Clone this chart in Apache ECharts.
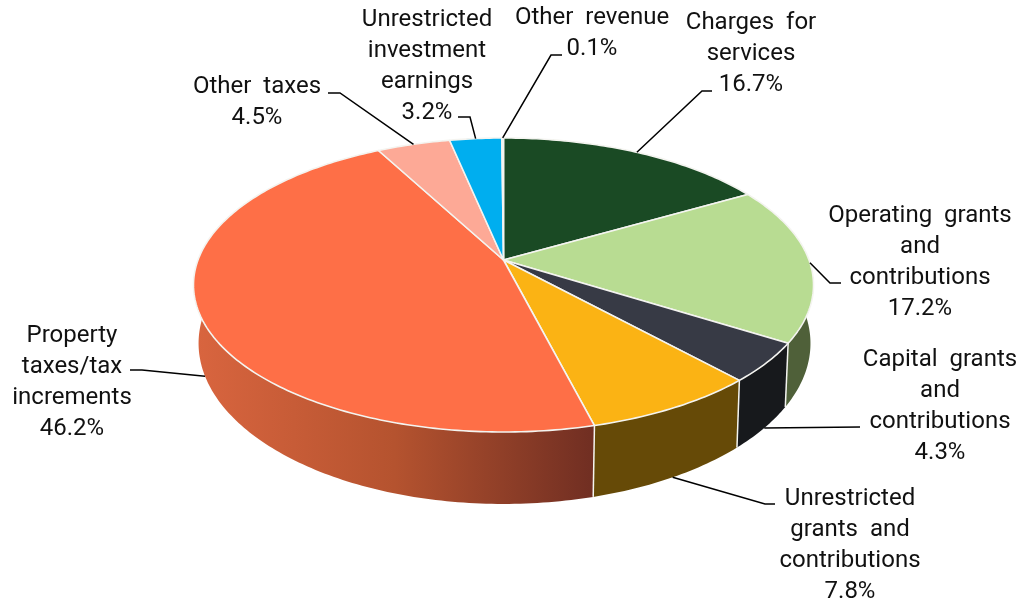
<!DOCTYPE html>
<html>
<head>
<meta charset="utf-8">
<style>html,body{margin:0;padding:0;background:#fff}#chart{width:1026px;height:605px}</style>
<script src="https://cdn.jsdelivr.net/npm/echarts@6/dist/echarts.min.js"></script>
</head>
<body>
<div id="chart"></div>
<script>
// Revenue shares, clockwise from twelve o'clock.
const categories = ['Charges  for\nservices', 'Operating  grants\nand\ncontributions', 'Capital  grants\nand\ncontributions',
  'Unrestricted\ngrants  and\ncontributions', 'Property\ntaxes/tax\nincrements', 'Other  taxes',
  'Unrestricted\ninvestment\nearnings', 'Other  revenue'];
const shares = [16.7, 17.2, 4.3, 7.8, 46.2, 4.5, 3.2, 0.1];

const topColors = ['#1a4a24', '#b8dc92', '#373a45', '#fbb314', '#fe6f47', '#fda996', '#00aeef', '#2a9fd8'];
const wallColors = ['#123318', '#4f6039', '#17191c', '#664a07',
  ['#d9653f', '#b5532f', '#702e22'], '#b07464', '#007aa7', '#1c6f97'];

// Label block centre, elbow points of the leader, and which rim the leader meets.
const labelLayout = [
  { x: 751, y: 54, elbow: [[702, 91], [712, 91]], rim: 'top' },
  { x: 920, y: 262.5, elbow: [[830, 283], [841, 283]], rim: 'top' },
  { x: 940, y: 406.5, elbow: [[860, 427]], rim: 'base' },
  { x: 850, y: 545.5, elbow: [[765, 504], [775, 504]], rim: 'base' },
  { x: 72, y: 382, elbow: [[142, 370], [130, 370]], rim: 'base' },
  { x: 257, y: 102.5, elbow: [[340, 93], [328, 93]], rim: 'top' },
  { x: 427, y: 66.5, elbow: [[470, 117], [458, 117]], rim: 'top' },
  { x: 592, y: 33.5, elbow: [[551, 55], [562, 55]], rim: 'top' }
];

// Projection of the tilted disc: a circle seen in perspective, top face and narrower base.
const persp = 0.17;
const topRim = { cx: 503.5, cy: 260, a: 305.5, aLeft: 305.5, b: 142.75 };
const baseRim = { cx: 503, cy: 316, a: 303, aLeft: 300, b: 156 };

function project(rim, pct) {
  const t = pct / 100 * Math.PI * 2;
  const u = Math.sin(t), v = Math.cos(t), w = 1 + persp * v;
  return [rim.cx + (u < 0 ? rim.aLeft : rim.a) * u / w, rim.cy - rim.b * v / w];
}
function arc(rim, from, to) {
  const pts = [], n = Math.max(2, Math.ceil((to - from) * 4));
  for (let i = 0; i <= n; i++) pts.push(project(rim, from + (to - from) * i / n));
  return pts;
}

let running = 0;
const spans = shares.map(function (s) { const r = [running, running + s, s]; running += s; return r; });

function wallFill(c) {
  if (!Array.isArray(c)) return c;
  return new echarts.graphic.LinearGradient(0, 0, 1, 0, c.map(function (col, i) {
    return { offset: i / (c.length - 1), color: col };
  }));
}

function renderWall(params, api) {
  const from = api.value(0), to = api.value(1);
  const upper = arc(topRim, from, to), lower = arc(baseRim, from, to).reverse();
  return { type: 'group', children: [
    { type: 'polygon', shape: { points: upper.concat(lower) }, style: { fill: wallFill(wallColors[params.dataIndex]) } },
    { type: 'line', shape: { x1: project(topRim, from)[0], y1: project(topRim, from)[1], x2: project(baseRim, from)[0], y2: project(baseRim, from)[1] },
      style: { stroke: '#f4f4f0', lineWidth: 1.5 } }
  ] };
}

function renderTop(params, api) {
  const from = api.value(0), to = api.value(1);
  const pts = [[topRim.cx, topRim.cy]].concat(arc(topRim, from, to));
  return { type: 'polygon', shape: { points: pts },
    style: { fill: topColors[params.dataIndex], stroke: '#f4f4f0', lineWidth: 1.6, lineJoin: 'round' } };
}

function renderLabel(params, api) {
  const i = params.dataIndex, from = api.value(0), to = api.value(1), lay = labelLayout[i];
  const anchor = project(lay.rim === 'base' ? baseRim : topRim, (from + to) / 2);
  return { type: 'group', children: [
    { type: 'polyline', shape: { points: [anchor].concat(lay.elbow) }, style: { fill: 'none', stroke: '#000', lineWidth: 1.5 } },
    { type: 'text', style: { x: lay.x, y: lay.y, text: categories[i] + '\n' + api.value(2).toFixed(1) + '%',
      fill: '#111', font: '24px Roboto', align: 'center', verticalAlign: 'middle', lineHeight: 31 } }
  ] };
}

const chart = echarts.init(document.getElementById('chart'), null, { renderer: 'canvas' });
function layer(fn, z) {
  return { type: 'custom', coordinateSystem: 'none', renderItem: fn, data: spans, z: z, silent: true, animation: false,
    encode: { value: [0, 1, 2] } };
}
chart.setOption({
  backgroundColor: '#fff',
  animation: false,
  series: [layer(renderWall, 1), layer(renderTop, 2), layer(renderLabel, 3)]
});
</script>
</body>
</html>
